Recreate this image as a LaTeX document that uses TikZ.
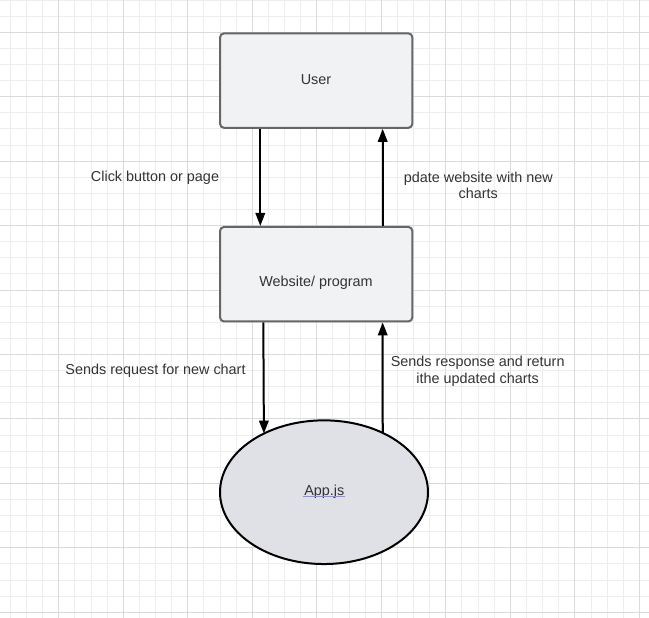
\documentclass[tikz,border=0pt]{standalone}
\usepackage{fontspec}
\setmainfont{Liberation Sans}
\usetikzlibrary{arrows.meta,shapes.geometric,calc}
\definecolor{minorgrid}{HTML}{EDEDED}
\definecolor{majorgrid}{HTML}{DADADA}
\definecolor{boxfill}{HTML}{F1F2F4}
\definecolor{boxline}{HTML}{666666}
\definecolor{ellfill}{HTML}{DFE1E6}
\definecolor{txt}{HTML}{333333}
\definecolor{ulblue}{HTML}{8C8CF5}
\tikzset{
  procbox/.style={draw=boxline, line width=2pt, fill=boxfill, rounded corners=4pt,
    minimum width=192.3pt, minimum height=94.5pt, inner sep=0pt},
  appell/.style={ellipse, draw=black, line width=2pt, fill=ellfill,
    minimum width=208pt, minimum height=143.7pt, inner sep=0pt},
  lbl/.style={text=txt, font=\fontsize{14.4}{16.6}\selectfont, align=center, inner sep=0pt},
  arr/.style={draw=black, line width=2pt, -{Triangle[length=13pt,width=9.5pt]}},
  mg/.style={draw=minorgrid, line width=0.9pt},
  Mg/.style={draw=majorgrid, line width=0.9pt},
}
\begin{document}
\begin{tikzpicture}[x=1pt,y=-1pt]
\useasboundingbox (0,0) rectangle (649,618);
\fill[white] (0,0) rectangle (649,618);
% grid
\foreach \i in {0,...,39} {\draw[mg] ({10.3+16.13*\i},0) -- ({10.3+16.13*\i},618);}
\foreach \j in {0,...,38} {\draw[mg] (0,{16.11*\j}) -- (649,{16.11*\j});}
\foreach \i in {3,7,...,39} {\draw[Mg] ({10.3+16.13*\i},0) -- ({10.3+16.13*\i},618);}
\foreach \j in {2,6,...,38} {\draw[Mg] (0,{16.11*\j}) -- (649,{16.11*\j});}
% nodes
\node[procbox] (user) at (316.2,80.6) {};
\node[procbox] (web) at (316.2,274.2) {};
\node[appell] (app) at (324,492.2) {};
\node[lbl] (usertxt) at (316,80) {User};
\node[lbl] (webtxt) at (316,282.5) {Website/ program};
\node[lbl] (apptxt) at (324.3,492) {App.js};
\draw[ulblue, line width=1pt] (303,496.9) -- (345,496.9);
% connector columns
\coordinate (c1) at (260.3,0);
\coordinate (c2) at (382.7,0);
\coordinate (c3) at (263.3,0);
\coordinate (c4) at (382.7,0);
\coordinate (appin) at ($(app.center)+(-125.3:104 and 71.85)$);
\coordinate (appout) at ($(app.center)+(-55.6:104 and 71.85)$);
\draw[arr] (c1 |- user.south) -- (c1 |- web.north);
\draw[arr] (c2 |- web.north) -- (c2 |- user.south);
\draw[arr] (c3 |- web.south) -- (appin);
\draw[arr] (appout) -- (c4 |- web.south);
% labels
\node[lbl] (l1) at (155,177.5) {Click button or page};
\node[lbl] (l2) at (478.3,185.5) {pdate website with new\\charts};
\node[lbl] (l3) at (155.5,371) {Sends request for new chart};
\node[lbl] (l4) at (477.7,371) {Sends response and return\\ithe updated charts};
\end{tikzpicture}
\end{document}
